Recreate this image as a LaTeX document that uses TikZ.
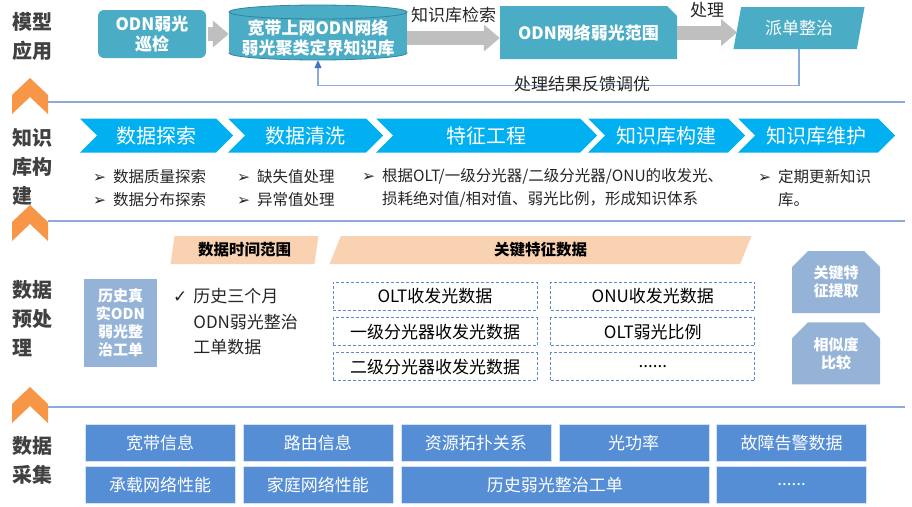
\documentclass[tikz,border=0pt]{standalone}
\usepackage{fontspec}
\setmainfont{Noto Sans CJK SC}
\newfontfamily\symfont{DejaVu Sans}
\usetikzlibrary{positioning,arrows.meta,shapes.geometric,shapes.misc,shapes.symbols}
\definecolor{odnteal}{HTML}{4BACC6}
\definecolor{odndark}{HTML}{31859C}
\definecolor{arrowgray}{HTML}{BFBFBF}
\definecolor{fbblue}{HTML}{8EA9DB}
\definecolor{tipblue}{HTML}{4472C4}
\definecolor{chevblue}{HTML}{00B0F0}
\definecolor{peach}{HTML}{F9D3B1}
\definecolor{paleblue}{HTML}{95B3D7}
\definecolor{cellblue}{HTML}{558ED5}
\definecolor{markorange}{HTML}{F79646}
\definecolor{dashblue}{HTML}{5B8BD0}
\definecolor{inkgray}{HTML}{404040}
\newcommand\bul{{\symfont ➢}\hspace{0.45em}}
\newcommand\tick{{\symfont ✓}\hspace{0.35em}}

\begin{document}
\begin{tikzpicture}[x=1pt,y=-1pt,
  topbox/.style={fill=odnteal, text=white, align=center, inner sep=0pt,
    font=\fontsize{17}{20}\selectfont\bfseries},
  grayarrow/.style={draw=arrowgray, line width=14pt, -{Triangle[width=26pt,length=16pt]}},
  fbline/.style={draw=fbblue, line width=1.2pt, -{Triangle[width=7pt,length=8pt,color=tipblue]}},
  pitext/.style={inner sep=0pt, text=black!85, font=\fontsize{17}{20}\selectfont},
  sepline/.style={draw=fbblue, line width=1.3pt},
  sidelabel/.style={anchor=west, align=left, inner sep=0pt, text=inkgray,
    font=\fontsize{20}{29}\selectfont\bfseries},
  chevstep/.style={signal, signal from=west, signal to=east, fill=chevblue, text=white,
    minimum height=34pt, inner sep=0pt, font=\fontsize{20}{24}\selectfont},
  bullets/.style={anchor=west, align=left, inner sep=0pt, text=black!85,
    font=\fontsize{15.5}{23}\selectfont},
  hdr/.style={trapezium, trapezium left angle=80, trapezium right angle=100,
    trapezium stretches=true, fill=peach, minimum height=28pt, inner sep=0pt,
    font=\fontsize{15.5}{18}\selectfont\bfseries},
  sidebox/.style={fill=paleblue, text=white, align=center, inner sep=0pt,
    font=\fontsize{15}{18}\selectfont\bfseries},
  dashcell/.style={draw=dashblue, dash pattern=on 3pt off 2pt, line width=0.8pt,
    minimum width=204pt, minimum height=28pt, inner sep=0pt,
    font=\fontsize{17}{20}\selectfont},
  featbox/.style={chamfered rectangle, chamfered rectangle corners={north west,north east},
    chamfered rectangle xsep=8pt, chamfered rectangle ysep=8pt, fill=paleblue,
    text=white, minimum width=88pt, minimum height=62pt, inner sep=0pt, align=center,
    font=\fontsize{15}{18}\selectfont\bfseries},
  datacell/.style={fill=cellblue, draw=white!75!cellblue, text=white,
    minimum width=150pt, minimum height=37pt, inner sep=0pt,
    font=\fontsize{17}{20}\selectfont}]
\useasboundingbox (0,0) rectangle (912,506);

\fill[odnteal, draw=odndark, line width=0.8pt] (318,53) ellipse [x radius=89, y radius=7];
\fill[odnteal] (229,12) rectangle (407,53);
\fill[odnteal, draw=odndark, line width=0.8pt] (318,12) ellipse [x radius=89, y radius=7];

\node[topbox, rounded corners=6pt, minimum width=108pt, minimum height=48pt] (patrol) at (152,34) {ODN弱光\\巡检};
\node[topbox, fill=none, minimum width=178pt, minimum height=44pt] (kb) at (318,38) {宽带上网ODN网络\\弱光聚类定界知识库};
\node[topbox, chamfered rectangle, chamfered rectangle corners=north east,
  chamfered rectangle xsep=5pt, chamfered rectangle ysep=5pt,
  minimum width=177pt, minimum height=53pt] (range) at (588.5,32.5) {ODN网络弱光范围};
\node[topbox, trapezium, trapezium left angle=74, trapezium right angle=106,
  trapezium stretches=true, minimum width=132pt, minimum height=42pt,
  font=\fontsize{17}{20}\selectfont] (dispatch) at (799,28) {派单整治};

\draw[grayarrow, shorten <=2pt] (patrol.east) -- (patrol.east -| kb.west);
\draw[grayarrow] (kb.east) -- node[above=8pt, pitext] {知识库检索} (kb.east -| range.west);
\draw[grayarrow] (range.east) -- node[above=8pt, pitext] {处理} (range.east -| dispatch.west);
\draw[fbline] (dispatch.south) -- ++(0,36) -| (kb.south);
\node[pitext] (fbtxt) at (582,84) {处理结果反馈调优};

\foreach \y in {102,221,407}
  \draw[sepline] (48,\y) -- (905,\y);
\foreach \y in {78,205,387}
  \fill[markorange] (12,\y+17) -- (30,\y) -- (48,\y+17) -- (48,\y+36) -- (30,\y+19) -- (12,\y+36) -- cycle;

\node[sidelabel] (lmodel) at (12,36) {模型\\应用};
\node[sidelabel] (lknow) at (12,166.5) {知识\\库构\\建};
\node[sidelabel] (lprep) at (12,319) {数据\\预处\\理};
\node[sidelabel] (lcoll) at (12,460) {数据\\采集};

\node[chevstep, minimum width=153pt] (explore) at (156.5,135.5) {数据探索};
\node[chevstep, minimum width=155pt] (clean) at (305.5,135.5) {数据清洗};
\node[chevstep, minimum width=221pt] (feature) at (486.5,135.5) {特征工程};
\node[chevstep, minimum width=157pt] (build) at (666.5,135.5) {知识库构建};
\node[chevstep, minimum width=157pt] (maint) at (816.5,135.5) {知识库维护};

\node[bullets] (bexplore) at (93,188) {\bul 数据质量探索\\\bul 数据分布探索};
\node[bullets] (bclean) at (237,188) {\bul 缺失值处理\\\bul 异常值处理};
\node[bullets] (bfeature) at (362,188) {\bul 根据OLT/一级分光器/二级分光器/ONU的收发光、\\\hphantom{\bul}损耗绝对值/相对值、弱光比例，形成知识体系};
\node[bullets] (bmaint) at (758,188) {\bul 定期更新知识\\\hphantom{\bul}库。};

\node[hdr, minimum width=149pt] (timehdr) at (244.5,250) {数据时间范围};
\node[hdr, minimum width=425pt] (keyhdr) at (540.5,250) {关键特征数据};
\node[sidebox, minimum width=73pt, minimum height=88pt] (hist) at (120.5,323) {历史真\\实ODN\\弱光整\\治工单};
\node[bullets, font=\fontsize{17}{25.5}\selectfont] (span) at (173,322) {\tick 历史三个月\\\hphantom{\tick}ODN弱光整治\\\hphantom{\tick}工单数据};

\node[dashcell] (olt) at (435,296) {OLT收发光数据};
\node[dashcell, below=7pt of olt] (sp1) {一级分光器收发光数据};
\node[dashcell, below=6pt of sp1] (sp2) {二级分光器收发光数据};
\node[dashcell, right=13pt of olt] (onu) {ONU收发光数据};
\node[dashcell, right=13pt of sp1] (ratio) {OLT弱光比例};
\node[dashcell, right=13pt of sp2] (dots) {......};

\node[featbox] (extract) at (836,282) {关键特\\征提取};
\node[featbox, below=9pt of extract] (similar) {相似度\\比较};

\node[datacell] (bband) at (160,443) {宽带信息};
\node[datacell, right=7.5pt of bband] (route) {路由信息};
\node[datacell, right=7.5pt of route] (topo) {资源拓扑关系};
\node[datacell, right=7.5pt of topo] (power) {光功率};
\node[datacell, right=7.5pt of power] (alarm) {故障告警数据};
\node[datacell, below=4.5pt of bband] (carry) {承载网络性能};
\node[datacell, below=4.5pt of route] (home) {家庭网络性能};
\node[datacell, minimum width=308pt, anchor=north west] (order) at ([yshift=-4.5pt]topo.south west) {历史弱光整治工单};
\node[datacell, below=4.5pt of alarm] (more) {......};
\end{tikzpicture}
\end{document}
